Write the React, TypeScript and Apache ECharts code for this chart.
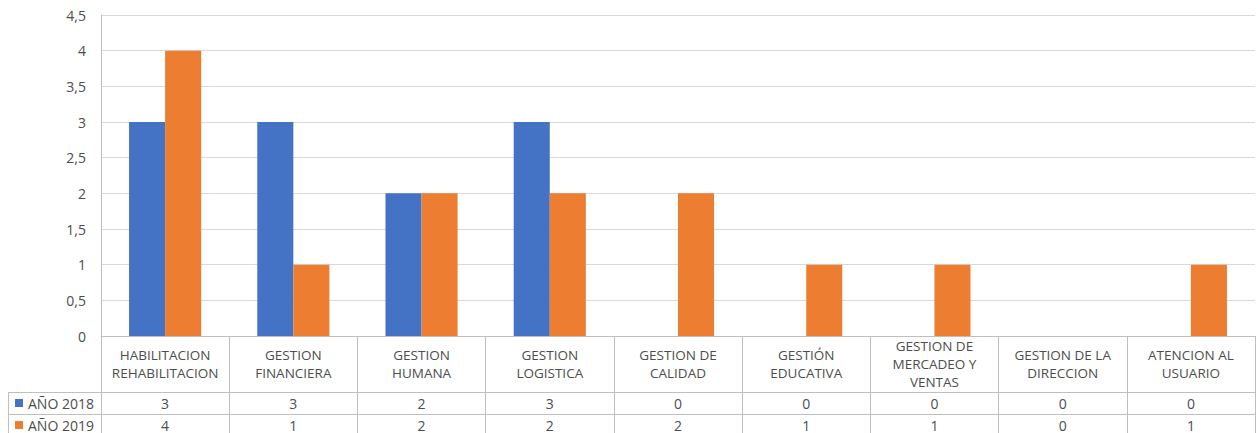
import React, { useEffect, useRef } from "react";
import * as echarts from "echarts";

const categories = [
  "HABILITACION\nREHABILITACION",
  "GESTION\nFINANCIERA",
  "GESTION\nHUMANA",
  "GESTION\nLOGISTICA",
  "GESTION DE\nCALIDAD",
  "GESTIÓN\nEDUCATIVA",
  "GESTION DE\nMERCADEO Y\nVENTAS",
  "GESTION DE LA\nDIRECCION",
  "ATENCION AL\nUSUARIO",
];
const values2018 = [3, 3, 2, 3, 0, 0, 0, 0, 0];
const values2019 = [4, 1, 2, 2, 2, 1, 1, 0, 1];
const seriesNames = ["AÑO 2018", "AÑO 2019"];
const colors = ["#4472C4", "#ED7D31"];

const W = 1258;
const H = 433;
const GRID_LEFT = 101;
const GRID_RIGHT = 3;
const GRID_TOP = 15;
const GRID_BOTTOM = 97;
const TXT = "#4d4d4d";
const LINE = "#bfbfbf";
const FONT = "'Open Sans', sans-serif";
const FS = 13.5;
const FS_BIG = 14;

export default function App() {
  const ref = useRef<HTMLDivElement>(null);
  useEffect(() => {
    if (!ref.current) return;
    const chart = echarts.init(ref.current, null, { renderer: "svg" });
    const axisBase = GRID_TOP + (H - GRID_TOP - GRID_BOTTOM);
    const rows = [403, 425];
    const valueAxis = (data: number[], offset: number) => ({
      type: "category",
      data: data.map(String),
      position: "bottom",
      offset,
      axisLine: { show: false },
      axisTick: { show: false },
      axisLabel: {
        interval: 0,
        margin: 0,
        verticalAlign: "middle",
        color: TXT,
        fontSize: FS_BIG,
        fontFamily: FONT,
      },
    });
    const legendGraphics: any[] = [];
    seriesNames.forEach((name, i) => {
      legendGraphics.push({
        type: "rect",
        shape: { x: 15, y: rows[i] - 4, width: 8, height: 8 },
        style: { fill: colors[i] },
      });
      legendGraphics.push({
        type: "text",
        x: 28,
        y: rows[i],
        style: {
          text: name,
          fill: TXT,
          font: `${FS_BIG}px ${FONT}`,
          textVerticalAlign: "middle",
          verticalAlign: "middle",
        },
      });
    });
    chart.setOption({
      animation: false,
      grid: { left: GRID_LEFT, right: GRID_RIGHT, top: GRID_TOP, bottom: GRID_BOTTOM },
      xAxis: [
        {
          type: "category",
          data: categories,
          position: "bottom",
          axisLine: { show: true, lineStyle: { color: LINE, width: 1 } },
          axisTick: { show: true, interval: 0, length: H - axisBase, lineStyle: { color: LINE } },
          axisLabel: {
            interval: 0,
            margin: 28,
            verticalAlign: "middle",
            color: TXT,
            fontSize: FS,
            lineHeight: 18,
            fontFamily: FONT,
          },
        },
        valueAxis(values2018, rows[0] - axisBase),
        valueAxis(values2019, rows[1] - axisBase),
      ],
      yAxis: {
        type: "value",
        min: 0,
        max: 4.5,
        interval: 0.5,
        axisLine: { show: true, lineStyle: { color: LINE } },
        axisTick: { show: false },
        splitLine: { lineStyle: { color: "#d9d9d9" } },
        axisLabel: {
          margin: 15,
          color: TXT,
          fontSize: FS_BIG,
          fontFamily: FONT,
          formatter: (v: number) => String(v).replace(".", ","),
        },
      },
      series: [
        {
          name: seriesNames[0],
          type: "bar",
          data: values2018,
          xAxisIndex: 0,
          barGap: "0%",
          barCategoryGap: "43.75%",
          itemStyle: { color: colors[0] },
        },
        {
          name: seriesNames[1],
          type: "bar",
          data: values2019,
          xAxisIndex: 0,
          barGap: "0%",
          barCategoryGap: "43.75%",
          itemStyle: { color: colors[1] },
        },
      ],
      graphic: [
        { type: "line", shape: { x1: 8, y1: 392.5, x2: W - GRID_RIGHT, y2: 392.5 }, style: { stroke: LINE, lineWidth: 1 } },
        { type: "line", shape: { x1: 8, y1: 414.5, x2: W - GRID_RIGHT, y2: 414.5 }, style: { stroke: LINE, lineWidth: 1 } },
        { type: "line", shape: { x1: 8.5, y1: 392, x2: 8.5, y2: H }, style: { stroke: LINE, lineWidth: 1 } },
        ...legendGraphics,
      ],
    });
    return () => chart.dispose();
  }, []);
  return (
    <div
      ref={ref}
      style={{ position: "absolute", left: 0, top: 0, width: W, height: H, background: "#fff" }}
    />
  );
}
